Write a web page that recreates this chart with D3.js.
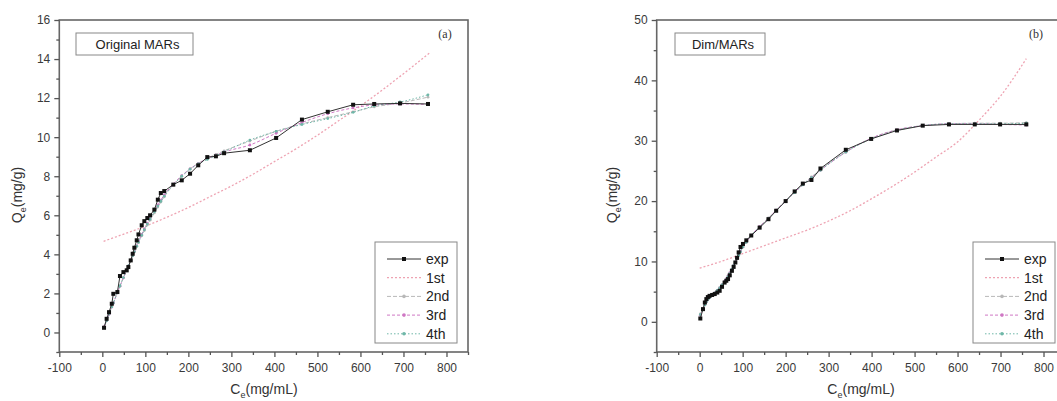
<!DOCTYPE html>
<html>
<head>
<meta charset="utf-8">
<script src="https://cdn.jsdelivr.net/npm/d3@7"></script>
<style>
  body { margin: 0; background: white; }
  text { font-family: Arial, "Liberation Sans", sans-serif; }
</style>
</head>
<body>
<div id="container"></div>
<script>
let w = 1057;
let h = 401;

// ---- panel (a): Original MARs ----
let leftC = [4, 10, 15.6, 22, 25.6, 35, 41, 49, 56.7, 60.5, 66, 70.6, 74.5, 80, 84, 91.6, 97.7, 104.6, 111, 121, 129, 136, 144, 165, 184.6, 204, 223, 244, 264, 283, 343, 404, 464, 524, 583, 632, 692, 757];
let leftExp = [0.24, 0.7, 1.04, 1.47, 1.98, 2.07, 2.89, 3.09, 3.18, 3.35, 3.69, 4.03, 4.34, 4.72, 5.02, 5.49, 5.7, 5.86, 6.0, 6.29, 6.8, 7.14, 7.24, 7.57, 7.79, 8.13, 8.56, 8.98, 9.02, 9.18, 9.33, 9.96, 10.9, 11.3, 11.66, 11.7, 11.73, 11.7];
let left1stC = [3, 50, 100, 150, 200, 250, 300, 350, 400, 450, 500, 550, 600, 650, 700, 760];
let left1st = [4.67, 5.04, 5.44, 5.9, 6.4, 6.95, 7.5, 8.1, 8.75, 9.4, 10.1, 10.85, 11.6, 12.4, 13.25, 14.3];
let left2nd = [0.3, 0.62, 0.95, 1.32, 1.52, 2.05, 2.38, 2.8, 3.2, 3.4, 3.68, 3.92, 4.12, 4.4, 4.6, 4.95, 5.22, 5.5, 5.75, 6.12, 6.42, 6.68, 6.95, 7.55, 8.0, 8.38, 8.66, 8.92, 9.12, 9.3, 9.8, 10.3, 10.68, 11.0, 11.3, 11.55, 11.75, 12.05];
let left3rd = [0.28, 0.6, 0.93, 1.3, 1.5, 2.03, 2.37, 2.8, 3.2, 3.4, 3.7, 3.95, 4.16, 4.45, 4.66, 5.02, 5.3, 5.6, 5.86, 6.24, 6.53, 6.78, 7.04, 7.6, 8.03, 8.38, 8.65, 8.9, 9.08, 9.24, 9.6, 10.2, 10.75, 11.2, 11.5, 11.65, 11.7, 11.68];
let left4th = [0.26, 0.6, 0.94, 1.31, 1.51, 2.04, 2.38, 2.81, 3.21, 3.41, 3.69, 3.93, 4.14, 4.42, 4.62, 4.98, 5.26, 5.55, 5.8, 6.18, 6.47, 6.72, 6.98, 7.57, 8.0, 8.36, 8.63, 8.86, 9.05, 9.25, 9.85, 10.3, 10.65, 10.95, 11.27, 11.6, 11.8, 12.17];

// ---- panel (b): Dim/MARs ----
let rightC = [1.5, 7.7, 12, 15.5, 19, 23, 29, 35, 41, 46.5, 52, 58, 62, 66, 70, 75, 79, 83, 87, 90.7, 95, 100.7, 108.5, 120, 139.5, 160, 178, 200, 221, 240, 260, 281, 340, 399, 459, 519, 580, 640, 699, 760];
let rightExp = [0.55, 2.1, 3.2, 3.76, 4.1, 4.3, 4.45, 4.6, 4.85, 5.14, 5.8, 6.5, 6.8, 7.08, 7.7, 8.45, 9.1, 9.83, 10.6, 11.5, 12.4, 12.9, 13.5, 14.3, 15.6, 17.0, 18.4, 20.0, 21.6, 22.9, 23.5, 25.4, 28.5, 30.3, 31.7, 32.5, 32.7, 32.7, 32.7, 32.7];
let right1stC = [0, 50, 100, 150, 200, 250, 300, 350, 400, 450, 500, 550, 600, 650, 700, 760];
let right1st = [8.9, 10.0, 11.3, 12.6, 13.9, 15.2, 16.7, 18.4, 20.4, 22.5, 24.8, 27.3, 29.8, 33.4, 37.4, 43.6];
let right2nd = [1.3, 2.2, 2.8, 3.3, 3.7, 4.0, 4.4, 4.8, 5.2, 5.6, 6.1, 6.7, 7.1, 7.6, 8.1, 8.7, 9.3, 9.9, 10.4, 11.0, 11.6, 12.4, 13.2, 14.3, 15.8, 17.2, 18.5, 20.0, 21.5, 22.8, 24.0, 25.2, 28.2, 30.4, 31.8, 32.5, 32.8, 32.9, 32.9, 33.0];
let right3rd = [1.1, 2.1, 2.8, 3.3, 3.7, 4.0, 4.4, 4.8, 5.2, 5.6, 6.1, 6.7, 7.1, 7.6, 8.1, 8.7, 9.3, 9.9, 10.5, 11.1, 11.7, 12.4, 13.2, 14.3, 15.8, 17.1, 18.5, 20.0, 21.5, 22.7, 23.9, 25.1, 28.1, 30.4, 31.8, 32.5, 32.8, 32.8, 32.7, 32.6];
let right4th = [1.2, 2.1, 2.8, 3.3, 3.7, 4.0, 4.4, 4.8, 5.2, 5.6, 6.1, 6.6, 7.0, 7.5, 8.0, 8.7, 9.3, 9.9, 10.5, 11.0, 11.6, 12.4, 13.2, 14.3, 15.7, 17.1, 18.4, 20.0, 21.4, 22.7, 23.9, 25.1, 28.1, 30.3, 31.7, 32.5, 32.8, 32.8, 32.8, 32.9];

let seriesNames = ["exp", "1st", "2nd", "3rd", "4th"];
let seriesColors = ["#1a1a1a", "#eea3b2", "#b8b8b8", "#cf78c4", "#6fb7a8"];
let seriesDash = [null, "2,2", "4,2", "3,2", "1.5,2"];

let viz = d3.select("#container")
  .append("svg")
    .attr("width", w)
    .attr("height", h)
    .style("background-color", "white")
;

function drawPanel(p){
  let x = d3.scaleLinear().domain([-100, 850]).range([p.left, p.right]);
  let y = d3.scaleLinear().domain(p.yDomain).range([352, 20]);

  let g = viz.append("g");

  // fitted curves first, exp on top
  let line = d3.line().x(d => x(d[0])).y(d => y(d[1])).curve(d3.curveMonotoneX);

  let firstPts = p.c1.map((c, i) => [c, p.f1[i]]);
  g.append("path").attr("d", line(firstPts))
    .attr("fill", "none").attr("stroke", seriesColors[1])
    .attr("stroke-width", 1.3).attr("stroke-dasharray", seriesDash[1]);

  let fits = [p.f2, p.f3, p.f4];
  fits.forEach(function(vals, k){
    let idx = k + 2;
    let pts = p.c.map((c, i) => [c, vals[i]]);
    g.append("path").attr("d", line(pts))
      .attr("fill", "none").attr("stroke", seriesColors[idx])
      .attr("stroke-width", 1).attr("stroke-dasharray", seriesDash[idx]);
    g.selectAll(".m" + idx).data(pts).enter()
      .append("circle")
        .attr("cx", d => x(d[0]))
        .attr("cy", d => y(d[1]))
        .attr("r", 1.4)
        .attr("fill", seriesColors[idx]);
  });

  let expPts = p.c.map((c, i) => [c, p.exp[i]]);
  g.append("path").attr("d", d3.line().x(d => x(d[0])).y(d => y(d[1]))(expPts))
    .attr("fill", "none").attr("stroke", "#333").attr("stroke-width", 1);
  g.selectAll(".expm").data(expPts).enter()
    .append("rect")
      .attr("x", d => x(d[0]) - 2)
      .attr("y", d => y(d[1]) - 2)
      .attr("width", 4)
      .attr("height", 4)
      .attr("fill", "#111");

  // frame
  g.append("rect")
    .attr("x", p.left).attr("y", 20)
    .attr("width", p.right - p.left).attr("height", 332)
    .attr("fill", "none").attr("stroke", "#666").attr("stroke-width", 1.6);

  // axes
  let xMajor = d3.range(-100, 801, 100);
  let xMinor = d3.range(-50, 851, 100);
  g.append("g").attr("transform", "translate(0,352)")
    .call(d3.axisBottom(x).tickValues(xMajor).tickSize(5).tickPadding(6).tickFormat(d => String(d)));
  g.append("g").attr("transform", "translate(0,352)")
    .call(d3.axisBottom(x).tickValues(xMinor).tickSize(3).tickFormat(""));

  g.append("g").attr("transform", "translate(" + p.left + ",0)")
    .call(d3.axisLeft(y).tickValues(p.yMajor).tickSize(5).tickPadding(4).tickFormat(d => String(d)));
  g.append("g").attr("transform", "translate(" + p.left + ",0)")
    .call(d3.axisLeft(y).tickValues(p.yMinor).tickSize(3).tickFormat(""));

  g.selectAll(".domain").remove();
  g.selectAll(".tick line").attr("stroke", "#555").attr("stroke-width", 1.3);
  g.selectAll(".tick text").attr("fill", "#3a3a3a").style("font-size", "12px");

  // axis titles
  let xt = g.append("text")
    .attr("x", p.xTitleX).attr("y", 394)
    .attr("text-anchor", "middle")
    .attr("fill", "#333")
    .style("font-size", "14px");
  xt.append("tspan").text("C");
  xt.append("tspan").text("e").attr("dy", 4).style("font-size", "9px");
  xt.append("tspan").text("(mg/mL)").attr("dy", -4);

  let yt = g.append("text")
    .attr("transform", "translate(" + p.yTitleX + ",195) rotate(-90)")
    .attr("text-anchor", "middle")
    .attr("fill", "#333")
    .style("font-size", "14px");
  yt.append("tspan").text("Q");
  yt.append("tspan").text("e").attr("dy", 4).style("font-size", "9px");
  yt.append("tspan").text("(mg/g)").attr("dy", -4);

  // name box
  g.append("rect")
    .attr("x", p.boxX).attr("y", 33)
    .attr("width", p.boxW).attr("height", 22)
    .attr("fill", "white").attr("stroke", "#888").attr("stroke-width", 1);
  g.append("text")
    .attr("x", p.boxX + p.boxW / 2 + 3).attr("y", 49)
    .attr("text-anchor", "middle")
    .attr("fill", "#222")
    .style("font-size", "13px")
    .text(p.name);

  g.append("text")
    .attr("x", p.tagX).attr("y", 38)
    .attr("text-anchor", "middle")
    .attr("fill", "#333")
    .style("font-family", "'Liberation Serif', 'Times New Roman', serif")
    .style("font-size", "12px")
    .text(p.tag);

  // legend
  let lg = g.append("g").attr("transform", "translate(" + p.legX + ",242)");
  lg.append("rect")
    .attr("width", 82).attr("height", 101)
    .attr("fill", "white").attr("stroke", "#888").attr("stroke-width", 1);
  let items = lg.selectAll(".legitem").data(seriesNames).enter()
    .append("g")
      .attr("transform", (d, i) => "translate(0," + (17 + i * 18.7) + ")");
  items.append("line")
    .attr("x1", 12).attr("x2", 46)
    .attr("stroke", (d, i) => i === 0 ? "#333" : seriesColors[i])
    .attr("stroke-width", (d, i) => i === 1 ? 1.3 : 1)
    .attr("stroke-dasharray", (d, i) => seriesDash[i]);
  items.filter((d, i) => i === 0).append("rect")
    .attr("x", 27).attr("y", -2).attr("width", 4).attr("height", 4)
    .attr("fill", "#111");
  items.filter((d, i) => i > 1).append("circle")
    .attr("cx", 29).attr("r", 1.8)
    .attr("fill", d => seriesColors[seriesNames.indexOf(d)]);
  items.append("text")
    .attr("x", 51).attr("y", 5)
    .attr("fill", "#222")
    .style("font-size", "14px")
    .text(d => d);
}

drawPanel({
  left: 59.3, right: 468, yDomain: [-1, 16],
  yMajor: d3.range(0, 17, 2), yMinor: d3.range(-1, 16, 2),
  c: leftC, exp: leftExp, c1: left1stC, f1: left1st, f2: left2nd, f3: left3rd, f4: left4th,
  name: "Original MARs", boxX: 76, boxW: 117, tag: "(a)", tagX: 445,
  legX: 375, xTitleX: 264, yTitleX: 22
});

drawPanel({
  left: 656.7, right: 1065, yDomain: [-5, 50],
  yMajor: d3.range(0, 51, 10), yMinor: d3.range(-5, 50, 10),
  c: rightC, exp: rightExp, c1: right1stC, f1: right1st, f2: right2nd, f3: right3rd, f4: right4th,
  name: "Dim/MARs", boxX: 675, boxW: 90, tag: "(b)", tagX: 1036,
  legX: 973, xTitleX: 861, yTitleX: 617
});
</script>
</body>
</html>
